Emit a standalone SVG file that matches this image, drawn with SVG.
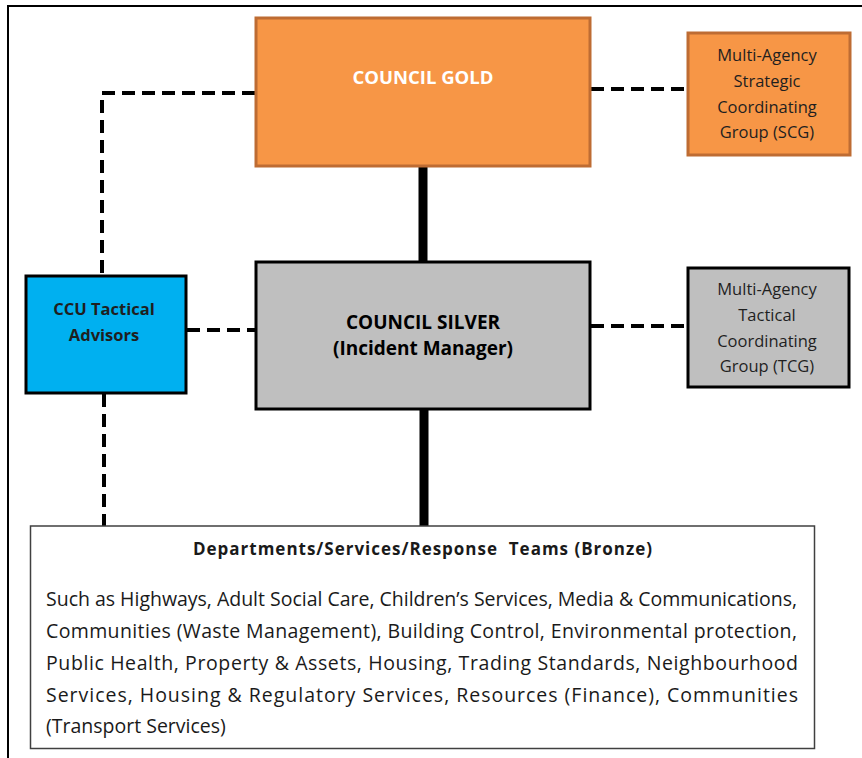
<svg xmlns="http://www.w3.org/2000/svg" width="862" height="758" viewBox="0 0 862 758">
  <style>
    text { font-family: "Open Sans", "Liberation Sans", sans-serif; }
    .lbl { font-size: 16.5px; fill: #1f1f1f; text-anchor: middle; }
    .bold { font-weight: bold; }
    .body { font-size: 19.5px; fill: #1a1a1a; }
    .dash { fill: none; stroke: #000; stroke-width: 4; stroke-dasharray: 13 7; }
    .solid { fill: none; stroke: #000; stroke-width: 9; }
  </style>
  <rect width="862" height="758" fill="#fff"/>
  <!-- page frame -->
  <rect x="8" y="6" width="900" height="800" fill="none" stroke="#000" stroke-width="2"/>

  <g id="connectors">
    <line class="solid" x1="423" y1="167" x2="423" y2="261"/>
    <line class="solid" x1="424" y1="410" x2="424" y2="526"/>
    <polyline class="dash" points="255,93 102,93 102,275"/>
    <line class="dash" x1="591" y1="89" x2="687" y2="89"/>
    <line class="dash" x1="187" y1="330" x2="255" y2="330"/>
    <line class="dash" x1="591" y1="326" x2="687" y2="326"/>
    <line class="dash" x1="104" y1="394" x2="104" y2="526"/>
  </g>

  <g id="council-gold">
    <rect x="256" y="18" width="334" height="148" fill="#F79646" stroke="#BE6C33" stroke-width="3"/>
    <text x="423" y="84" class="bold" font-size="18.5" fill="#fff" text-anchor="middle">COUNCIL GOLD</text>
  </g>

  <g id="scg">
    <rect x="688" y="33" width="162" height="122" fill="#F79646" stroke="#BE6C33" stroke-width="3"/>
    <text class="lbl" x="767" y="61">Multi-Agency</text>
    <text class="lbl" x="767" y="87">Strategic</text>
    <text class="lbl" x="767" y="113">Coordinating</text>
    <text class="lbl" x="767" y="138">Group (SCG)</text>
  </g>

  <g id="council-silver">
    <rect x="256" y="262" width="334" height="147" fill="#BFBFBF" stroke="#000" stroke-width="3"/>
    <text x="423" y="329" class="bold" font-size="19" fill="#000" text-anchor="middle">COUNCIL SILVER</text>
    <text x="423" y="355" class="bold" font-size="19" fill="#000" text-anchor="middle">(Incident Manager)</text>
  </g>

  <g id="tcg">
    <rect x="688" y="268" width="161" height="119" fill="#BFBFBF" stroke="#000" stroke-width="3"/>
    <text class="lbl" x="767" y="295">Multi-Agency</text>
    <text class="lbl" x="767" y="321">Tactical</text>
    <text class="lbl" x="767" y="347">Coordinating</text>
    <text class="lbl" x="767" y="372">Group (TCG)</text>
  </g>

  <g id="ccu-tactical-advisors">
    <rect x="26" y="276" width="160" height="117" fill="#00B0F0" stroke="#000" stroke-width="3"/>
    <text class="lbl bold" x="104" y="315" font-size="14">CCU Tactical</text>
    <text class="lbl bold" x="104" y="341" font-size="14">Advisors</text>
  </g>

  <g id="bronze">
    <rect x="30.5" y="526" width="784" height="222.5" fill="#fff" stroke="#404040" stroke-width="1.5"/>
    <text x="193" y="555" class="bold" font-size="17" fill="#1a1a1a" textLength="459" lengthAdjust="spacing" xml:space="preserve">Departments/Services/Response  Teams (Bronze)</text>
    <text class="body" x="46" y="606" textLength="751" lengthAdjust="spacing">Such as Highways, Adult Social Care, Children’s Services, Media &amp; Communications,</text>
    <text class="body" x="46" y="638" textLength="751" lengthAdjust="spacing">Communities (Waste Management), Building Control, Environmental protection,</text>
    <text class="body" x="46" y="670" textLength="752" lengthAdjust="spacing">Public Health, Property &amp; Assets, Housing, Trading Standards, Neighbourhood</text>
    <text class="body" x="46" y="702" textLength="752" lengthAdjust="spacing">Services, Housing &amp; Regulatory Services, Resources (Finance), Communities</text>
    <text class="body" x="46" y="733">(Transport Services)</text>
  </g>
</svg>
